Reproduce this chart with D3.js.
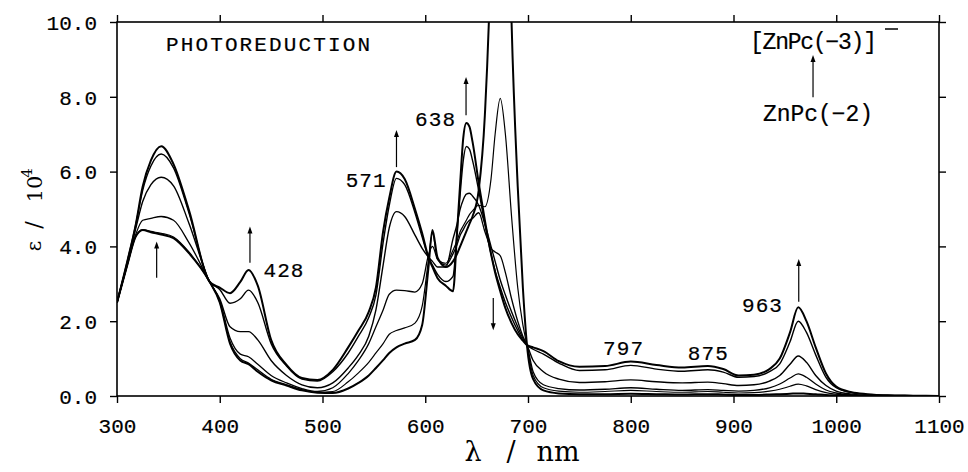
<!DOCTYPE html>
<html><head><meta charset="utf-8">
<script src="https://cdn.jsdelivr.net/npm/d3@7"></script>
<style>body{margin:0;background:#fff}</style>
</head><body>
<svg id="c" width="968" height="472"></svg>
<script>
// ---- data (wavelength in nm, epsilon / 10^4) ----
const wavelengths = [300,310,318,325,333,343,355,370,390,400,410,420,428,437,450,465,480,495,510,525,535,545,552,559,565,572,580,590,597,603,607,612,620,627,631,634,637,640,643,646,652,658,664,668,673,678,684,690,695,699,705,715,730,750,775,800,825,850,875,890,905,920,935,945,955,963,971,980,990,1000,1015,1030,1050,1075,1100];

// ZnPc(-2) start spectrum
const seriesA = [2.5,3.5,4.25,4.44,4.38,4.32,4.22,3.82,3.06,2.5,1.4,0.95,0.85,0.65,0.42,0.28,0.15,0.09,0.08,0.2,0.35,0.55,0.75,0.96,1.15,1.3,1.4,1.5,1.9,3.4,4.44,3.7,3.45,3.6,3.8,4.0,4.2,4.4,4.6,4.8,5.5,7.5,12,18,25,18,10,5.6,2.9,1.36,0.45,0.15,0.07,0.05,0.05,0.06,0.05,0.04,0.05,0.04,0.03,0.03,0.04,0.05,0.06,0.07,0.06,0.05,0.03,0.02,0.01,0,0,0,0];
const seriesB = [2.5,3.5,4.25,4.45,4.4,4.35,4.25,3.85,3.06,2.52,1.45,1.0,0.88,0.7,0.45,0.3,0.17,0.1,0.12,0.38,0.62,0.9,1.15,1.4,1.65,1.75,1.82,1.95,2.4,3.6,4.35,3.65,3.55,3.9,4.15,4.4,4.55,4.7,4.85,4.95,5.1,5.06,5.8,7.0,7.96,7.0,4.8,2.9,1.9,1.36,0.55,0.22,0.13,0.1,0.12,0.15,0.12,0.1,0.12,0.1,0.08,0.09,0.13,0.18,0.26,0.32,0.27,0.17,0.09,0.05,0.02,0.01,0,0,0];
const seriesC = [2.5,3.5,4.3,4.7,4.75,4.8,4.7,4.1,3.06,2.55,1.55,1.12,1.05,0.85,0.55,0.35,0.2,0.12,0.22,0.6,0.95,1.4,1.85,2.3,2.72,2.83,2.82,2.78,3.0,3.75,4.0,3.65,3.5,3.8,4.05,4.3,4.45,4.6,4.7,4.75,4.9,4.4,3.95,3.85,3.75,3.3,2.6,2.0,1.6,1.36,0.65,0.3,0.2,0.16,0.18,0.22,0.18,0.15,0.17,0.15,0.13,0.15,0.22,0.32,0.48,0.59,0.5,0.32,0.16,0.08,0.03,0.01,0,0,0];
const seriesD = [2.5,3.55,4.45,5.2,5.65,5.85,5.62,4.62,3.06,2.6,1.85,1.72,1.72,1.5,0.95,0.55,0.3,0.22,0.35,0.75,1.1,1.6,2.3,3.5,4.5,4.93,4.8,4.3,3.95,3.72,3.6,3.45,3.45,4.2,4.6,5.0,5.25,5.4,5.42,5.35,5.1,4.6,4.0,3.6,3.1,2.7,2.25,1.85,1.55,1.36,0.95,0.65,0.45,0.36,0.38,0.43,0.38,0.35,0.37,0.33,0.28,0.3,0.4,0.55,0.85,1.07,0.9,0.55,0.28,0.13,0.05,0.02,0.01,0,0];
const seriesE = [2.5,3.6,4.55,5.5,6.15,6.47,6.1,4.9,3.06,2.85,2.48,2.6,2.83,2.5,1.4,0.8,0.45,0.4,0.65,1.15,1.6,2.1,2.7,4.1,5.1,5.82,5.65,4.9,4.25,3.72,3.5,3.25,3.06,3.2,4.4,5.4,6.3,6.67,6.6,6.3,5.5,4.6,3.8,3.35,2.9,2.5,2.1,1.75,1.5,1.36,1.25,1.12,0.88,0.68,0.7,0.82,0.72,0.66,0.7,0.64,0.5,0.52,0.65,0.86,1.45,2.0,1.7,1.1,0.5,0.22,0.09,0.04,0.02,0.01,0];
// [ZnPc(-3)]- final spectrum
const seriesF = [2.5,3.6,4.55,5.6,6.3,6.68,6.2,4.97,3.06,2.9,2.75,3.05,3.37,2.95,1.5,0.83,0.48,0.43,0.7,1.3,1.75,2.25,2.9,4.4,5.3,6.0,5.8,5.0,4.35,3.72,3.45,3.15,2.95,2.8,4.4,5.7,6.9,7.3,7.2,6.8,5.7,4.7,3.8,3.3,2.8,2.35,1.95,1.65,1.48,1.36,1.3,1.2,0.93,0.78,0.8,0.92,0.83,0.76,0.8,0.72,0.55,0.57,0.72,1.0,1.7,2.37,2.0,1.3,0.6,0.25,0.1,0.05,0.02,0.01,0];

const xTicks = [300,400,500,600,700,800,900,1000,1100];
const yTicks = [0,2,4,6,8,10];
const peakLabels = ["428","571","638","797","875","963"];

// ---- layout ----
const svg = d3.select("#c");
const L = 117, R = 939, T = 22, B = 396;
const x = d3.scaleLinear().domain([300,1100]).range([L,R]);
const y = d3.scaleLinear().domain([0,10]).range([B,T]);
const monoFont = "'Liberation Mono', 'DejaVu Sans Mono', monospace";
const serifFont = "'DejaVu Serif', 'Liberation Serif', serif";

svg.append("defs").append("clipPath").attr("id","clip")
  .append("rect").attr("x",L).attr("y",T).attr("width",R-L).attr("height",B-T);

const series = [
  {v: seriesA, w: 2.0},
  {v: seriesB, w: 1.2},
  {v: seriesC, w: 1.3},
  {v: seriesD, w: 1.4},
  {v: seriesE, w: 1.4},
  {v: seriesF, w: 2.0}
];
const line = d3.line().x((d,i)=>x(wavelengths[i])).y(d=>y(d)).curve(d3.curveMonotoneX);
svg.append("g").attr("clip-path","url(#clip)")
  .selectAll("path").data(series).join("path")
  .attr("d", d=>line(d.v)).attr("fill","none").attr("stroke","#000")
  .attr("stroke-width", d=>d.w).attr("stroke-linejoin","round");

// text helper
function txt(sel, size){ return sel.attr("font-family",monoFont).attr("font-size",size).attr("fill","#000").attr("stroke","#000").attr("stroke-width",0.2); }

// axes
function styleAxis(g){ g.select(".domain").remove(); g.selectAll("line").attr("stroke","#000").attr("stroke-width",1.4); }
svg.append("g").attr("transform",`translate(0,${B})`)
  .call(d3.axisBottom(x).tickValues(xTicks).tickSize(7).tickSizeOuter(0).tickFormat(d3.format("d")))
  .call(styleAxis)
  .call(g=>txt(g.selectAll("text").attr("y",30).attr("dy","0.35em"),21));
svg.append("g").attr("transform",`translate(0,${T})`)
  .call(d3.axisTop(x).tickValues(xTicks).tickSize(7).tickSizeOuter(0).tickFormat(""))
  .call(styleAxis);
svg.append("g").attr("transform",`translate(${L},0)`)
  .call(d3.axisLeft(y).tickValues(yTicks).tickSize(7).tickSizeOuter(0).tickFormat(d3.format(".1f")))
  .call(styleAxis)
  .call(g=>txt(g.selectAll("text").attr("x",-20).attr("dy","0.35em"),21));
svg.append("g").attr("transform",`translate(${R},0)`)
  .call(d3.axisRight(y).tickValues(yTicks).tickSize(7).tickSizeOuter(0).tickFormat(""))
  .call(styleAxis);

svg.append("rect").attr("x",L).attr("y",T).attr("width",R-L).attr("height",B-T)
  .attr("fill","none").attr("stroke","#000").attr("stroke-width",1.6);

// x axis title: λ / nm
const xt = svg.append("g").attr("font-family",serifFont).attr("fill","#000").attr("text-anchor","middle");
xt.append("text").attr("x",473).attr("y",461).attr("font-size",27).text("λ");
xt.append("text").attr("x",511).attr("y",461).attr("font-size",27).text("/");
xt.append("text").attr("x",558).attr("y",461).attr("font-size",27).text("nm");

// y axis title: ε / 10^4 (rotated)
const yt = svg.append("g").attr("font-family",serifFont).attr("fill","#000").attr("text-anchor","middle");
yt.append("text").attr("transform","translate(41,246) rotate(-90)").attr("font-size",20).text("ε");
yt.append("text").attr("transform","translate(41,225) rotate(-90)").attr("font-size",22).text("/");
yt.append("text").attr("transform","translate(42,189) rotate(-90)").attr("font-size",21).text("10");
yt.append("text").attr("transform","translate(32,173) rotate(-90)").attr("font-size",15).text("4");

// peak labels
const labelPos = [[462,3.37],[542,5.78],[609.5,7.41],[792.5,1.28],[875,1.15],[927.7,2.43]];
txt(svg.append("g").selectAll("text").data(peakLabels).join("text")
  .attr("x",(d,i)=>x(labelPos[i][0])).attr("y",(d,i)=>y(labelPos[i][1]))
  .attr("dy","0.35em").attr("text-anchor","middle")
  .attr("textLength",40).attr("lengthAdjust","spacing")
  .text(d=>d), 21);

// arrows [nm, from, to]
const arrows = [[338.6,3.16,4.13],[429.4,3.56,4.53],[572,6.12,7.11],[639.7,7.51,8.53],[666.2,2.62,1.76],[963.5,2.52,3.66],[977.4,7.99,9.12]];
const ag = svg.append("g");
arrows.forEach(a=>{
  const xx = x(a[0]), y0 = y(a[1]), y1 = y(a[2]);
  const dir = y1 < y0 ? 1 : -1;
  ag.append("line").attr("x1",xx).attr("x2",xx).attr("y1",y0).attr("y2",y1+dir*4)
    .attr("stroke","#000").attr("stroke-width",1.2);
  ag.append("path").attr("d",`M${xx},${y1} L${xx-2.5},${y1+dir*7} L${xx+2.5},${y1+dir*7} Z`).attr("fill","#000");
});

// texts
txt(svg.append("text").attr("x",166).attr("y",44).attr("dy","0.35em")
  .attr("textLength",204).attr("lengthAdjust","spacing").text("PHOTOREDUCTION"), 21);
txt(svg.append("text").attr("x",750).attr("y",41).attr("dy","0.35em")
  .attr("textLength",127).attr("lengthAdjust","spacing").text("[ZnPc(−3)]"), 23);
svg.append("line").attr("x1",885).attr("x2",898).attr("y1",29).attr("y2",29).attr("stroke","#000").attr("stroke-width",1.5);
txt(svg.append("text").attr("x",763).attr("y",113).attr("dy","0.35em")
  .attr("textLength",110).attr("lengthAdjust","spacing").text("ZnPc(−2)"), 23);
</script>
</body></html>
